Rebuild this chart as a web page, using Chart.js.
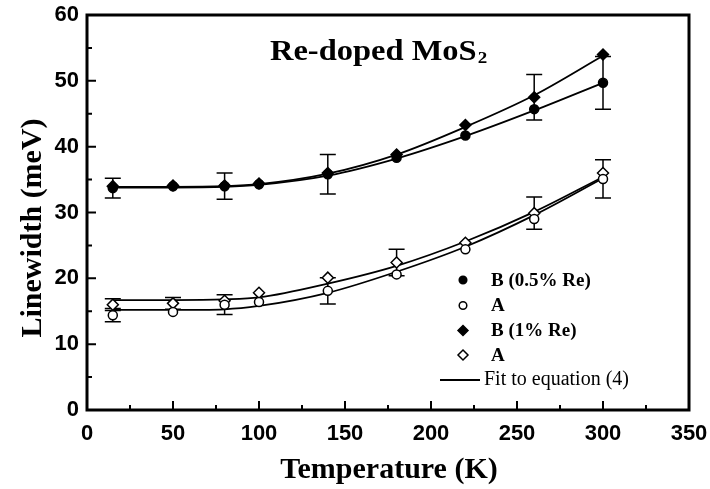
<!DOCTYPE html>
<html>
<head>
  <title>Re-doped MoS2 linewidth</title>
  <script src="https://cdn.jsdelivr.net/npm/chart.js"></script>
  <style>
    html, body { margin: 0; padding: 0; background: #fff; }
    #wrap { width: 710px; height: 489px; }
  </style>
</head>
<body>
  <div id="wrap"><canvas id="myChart" width="710" height="489"></canvas></div>

  <script>
    // temperatures (K)
    var temps = [15, 50, 80, 100, 140, 180, 220, 260, 300];

    // measured linewidths (meV)
    var bHalf = [33.7, 34.0, 34.0, 34.3, 35.8, 38.3, 41.7, 45.7, 49.7];  // B (0.5% Re)
    var aHalf = [14.4, 14.9, 16.0, 16.4, 18.1, 20.6, 24.4, 29.0, 35.1];  // A (0.5% Re)
    var bOne  = [34.0, 34.1, 34.1, 34.4, 36.0, 38.8, 43.3, 47.5, 54.0];  // B (1% Re)
    var aOne  = [16.0, 16.2, 16.6, 17.8, 20.1, 22.4, 25.4, 29.9, 36.0];  // A (1% Re)

    // fit curves, read at the same temperatures
    var fitBHalf = [33.8, 33.8, 33.9, 34.2, 35.6, 38.2, 41.6, 45.5, 49.7];
    var fitBOne  = [33.9, 33.9, 34.0, 34.3, 35.9, 38.8, 43.0, 47.8, 53.8];
    var fitAHalf = [15.2, 15.2, 15.3, 15.8, 17.8, 21.0, 24.8, 29.6, 35.2];
    var fitAOne  = [16.7, 16.7, 16.8, 17.1, 19.2, 21.9, 25.6, 30.1, 35.4];

    // error bar half heights (null = no bar)
    var errBHalf = [1.5, null, 2.0, null, 3.0, null, null, null, 4.0];
    var errBOne  = [null, null, null, null, null, null, null, 3.45, null];
    var errAHalf = [1.0, null, 1.5, null, 2.0, null, null, null, 2.9];
    var errAOne  = [0.9, 0.9, null, null, null, 2.0, null, 2.45, null];

    var xTicks = [0, 50, 100, 150, 200, 250, 300, 350];
    var yTicks = [0, 10, 20, 30, 40, 50, 60];

    function pts(vals) {
      return temps.map(function(t, i) { return { x: t, y: vals[i] }; });
    }

    function fitSet(vals) {
      return {
        type: 'line', data: pts(vals), borderColor: '#000', borderWidth: 1.8,
        pointRadius: 0, cubicInterpolationMode: 'monotone', fill: false, order: 10
      };
    }

    function markSet(vals, style, filled, r) {
      return {
        type: 'scatter', data: pts(vals), pointStyle: style, pointRadius: r,
        pointBackgroundColor: filled ? '#000' : '#fff', pointBorderColor: '#000',
        pointBorderWidth: 1.5, showLine: false, order: 1
      };
    }

    // let the layout padding alone decide the plot area
    function noPad(s) {
      s.paddingLeft = 0; s.paddingRight = 0; s.paddingTop = 0; s.paddingBottom = 0;
    }

    var serif = '"Liberation Serif", "Times New Roman", serif';
    var sans = '"Liberation Sans", Arial, sans-serif';

    // error bars, frame, inward ticks, titles and legend
    var deco = {
      id: 'deco',
      beforeDatasetsDraw: function(chart) {
        var ctx = chart.ctx, xs = chart.scales.x, ys = chart.scales.y;
        var sets = [[bHalf, errBHalf], [bOne, errBOne], [aHalf, errAHalf], [aOne, errAOne]];
        ctx.save();
        ctx.strokeStyle = '#000';
        ctx.lineWidth = 1.5;
        sets.forEach(function(s) {
          s[1].forEach(function(e, i) {
            if (e == null) return;
            var x = xs.getPixelForValue(temps[i]);
            var y1 = ys.getPixelForValue(s[0][i] + e);
            var y2 = ys.getPixelForValue(s[0][i] - e);
            ctx.beginPath();
            ctx.moveTo(x, y1); ctx.lineTo(x, y2);
            ctx.moveTo(x - 8, y1); ctx.lineTo(x + 8, y1);
            ctx.moveTo(x - 8, y2); ctx.lineTo(x + 8, y2);
            ctx.stroke();
          });
        });
        ctx.restore();
      },
      afterDraw: function(chart) {
        var ctx = chart.ctx, a = chart.chartArea, xs = chart.scales.x, ys = chart.scales.y;
        ctx.save();
        ctx.strokeStyle = '#000';
        ctx.fillStyle = '#000';

        // frame
        ctx.lineWidth = 3;
        ctx.strokeRect(a.left, a.top, a.right - a.left, a.bottom - a.top);

        // inward ticks
        ctx.lineWidth = 2;
        ctx.beginPath();
        for (var v = 0; v <= 350; v += 25) {
          var px = xs.getPixelForValue(v);
          var len = v % 50 === 0 ? 9 : 5;
          ctx.moveTo(px, a.bottom); ctx.lineTo(px, a.bottom - len);
        }
        for (var w = 0; w <= 60; w += 5) {
          var py = ys.getPixelForValue(w);
          var l2 = w % 10 === 0 ? 9 : 5;
          ctx.moveTo(a.left, py); ctx.lineTo(a.left + l2, py);
        }
        ctx.stroke();

        // axis titles
        ctx.font = 'bold 30px ' + serif;
        ctx.textAlign = 'center';
        ctx.textBaseline = 'alphabetic';
        ctx.fillText('Temperature (K)', (a.left + a.right) / 2 + 1, 478);
        ctx.save();
        ctx.translate(41, 228);
        ctx.rotate(-Math.PI / 2);
        ctx.fillText('Linewidth (meV)', 0, 0);
        ctx.restore();

        // inner title, a little wider than plain Times
        ctx.save();
        ctx.translate(270, 60);
        ctx.scale(1.12, 1);
        ctx.textAlign = 'left';
        ctx.font = 'bold 29px ' + serif;
        ctx.fillText('Re-doped MoS', 0, 0);
        var tw = ctx.measureText('Re-doped MoS').width;
        ctx.font = 'bold 17px ' + serif;
        ctx.fillText('2', tw + 1, 3);
        ctx.restore();

        // legend
        var mx = 463;
        var rows = [
          { label: 'B (0.5% Re)', shape: 'circle', filled: true, y: 280 },
          { label: 'A', shape: 'circle', filled: false, y: 305.5 },
          { label: 'B (1% Re)', shape: 'diamond', filled: true, y: 330.5 },
          { label: 'A', shape: 'diamond', filled: false, y: 355 }
        ];
        ctx.textAlign = 'left';
        ctx.textBaseline = 'middle';
        rows.forEach(function(r) {
          ctx.beginPath();
          if (r.shape === 'circle') {
            ctx.arc(mx, r.y, 3.8, 0, Math.PI * 2);
          } else {
            ctx.moveTo(mx, r.y - 5); ctx.lineTo(mx + 5, r.y);
            ctx.lineTo(mx, r.y + 5); ctx.lineTo(mx - 5, r.y); ctx.closePath();
          }
          ctx.fillStyle = r.filled ? '#000' : '#fff';
          ctx.fill();
          ctx.lineWidth = 1.5;
          ctx.stroke();
          ctx.fillStyle = '#000';
          ctx.font = 'bold 19px ' + serif;
          ctx.fillText(r.label, 491, r.y + 1);
        });
        ctx.lineWidth = 1.8;
        ctx.beginPath();
        ctx.moveTo(440, 380); ctx.lineTo(480, 380);
        ctx.stroke();
        ctx.font = '20px ' + serif;
        ctx.fillText('Fit to equation (4)', 484, 380);

        ctx.restore();
      }
    };

    var ctx = document.getElementById('myChart').getContext('2d');
    var myChart = new Chart(ctx, {
      type: 'scatter',
      data: {
        datasets: [
          markSet(bHalf, 'circle', true, 4.5),
          markSet(aHalf, 'circle', false, 4.5),
          markSet(bOne, 'rectRot', true, 5.5),
          markSet(aOne, 'rectRot', false, 5.5),
          fitSet(fitBHalf),
          fitSet(fitBOne),
          fitSet(fitAHalf),
          fitSet(fitAOne)
        ]
      },
      options: {
        responsive: false,
        animation: false,
        layout: { padding: { top: 15, right: 21, left: 0, bottom: 0 } },
        plugins: { legend: { display: false }, tooltip: { enabled: false } },
        scales: {
          x: {
            type: 'linear', min: 0, max: 350,
            grid: { display: false, drawTicks: false },
            border: { display: false },
            afterBuildTicks: function(s) { s.ticks = xTicks.map(function(v) { return { value: v }; }); },
            afterFit: function(s) { s.height = 79; noPad(s); },
            ticks: { padding: 11, color: '#000', maxRotation: 0, font: { family: sans, size: 22, weight: 'bold' } }
          },
          y: {
            min: 0, max: 60,
            grid: { display: false, drawTicks: false },
            border: { display: false },
            afterBuildTicks: function(s) { s.ticks = yTicks.map(function(v) { return { value: v }; }); },
            afterFit: function(s) { s.width = 87; noPad(s); },
            ticks: { padding: 8, color: '#000', font: { family: sans, size: 22, weight: 'bold' } }
          }
        }
      },
      plugins: [deco]
    });
  </script>
</body>
</html>
